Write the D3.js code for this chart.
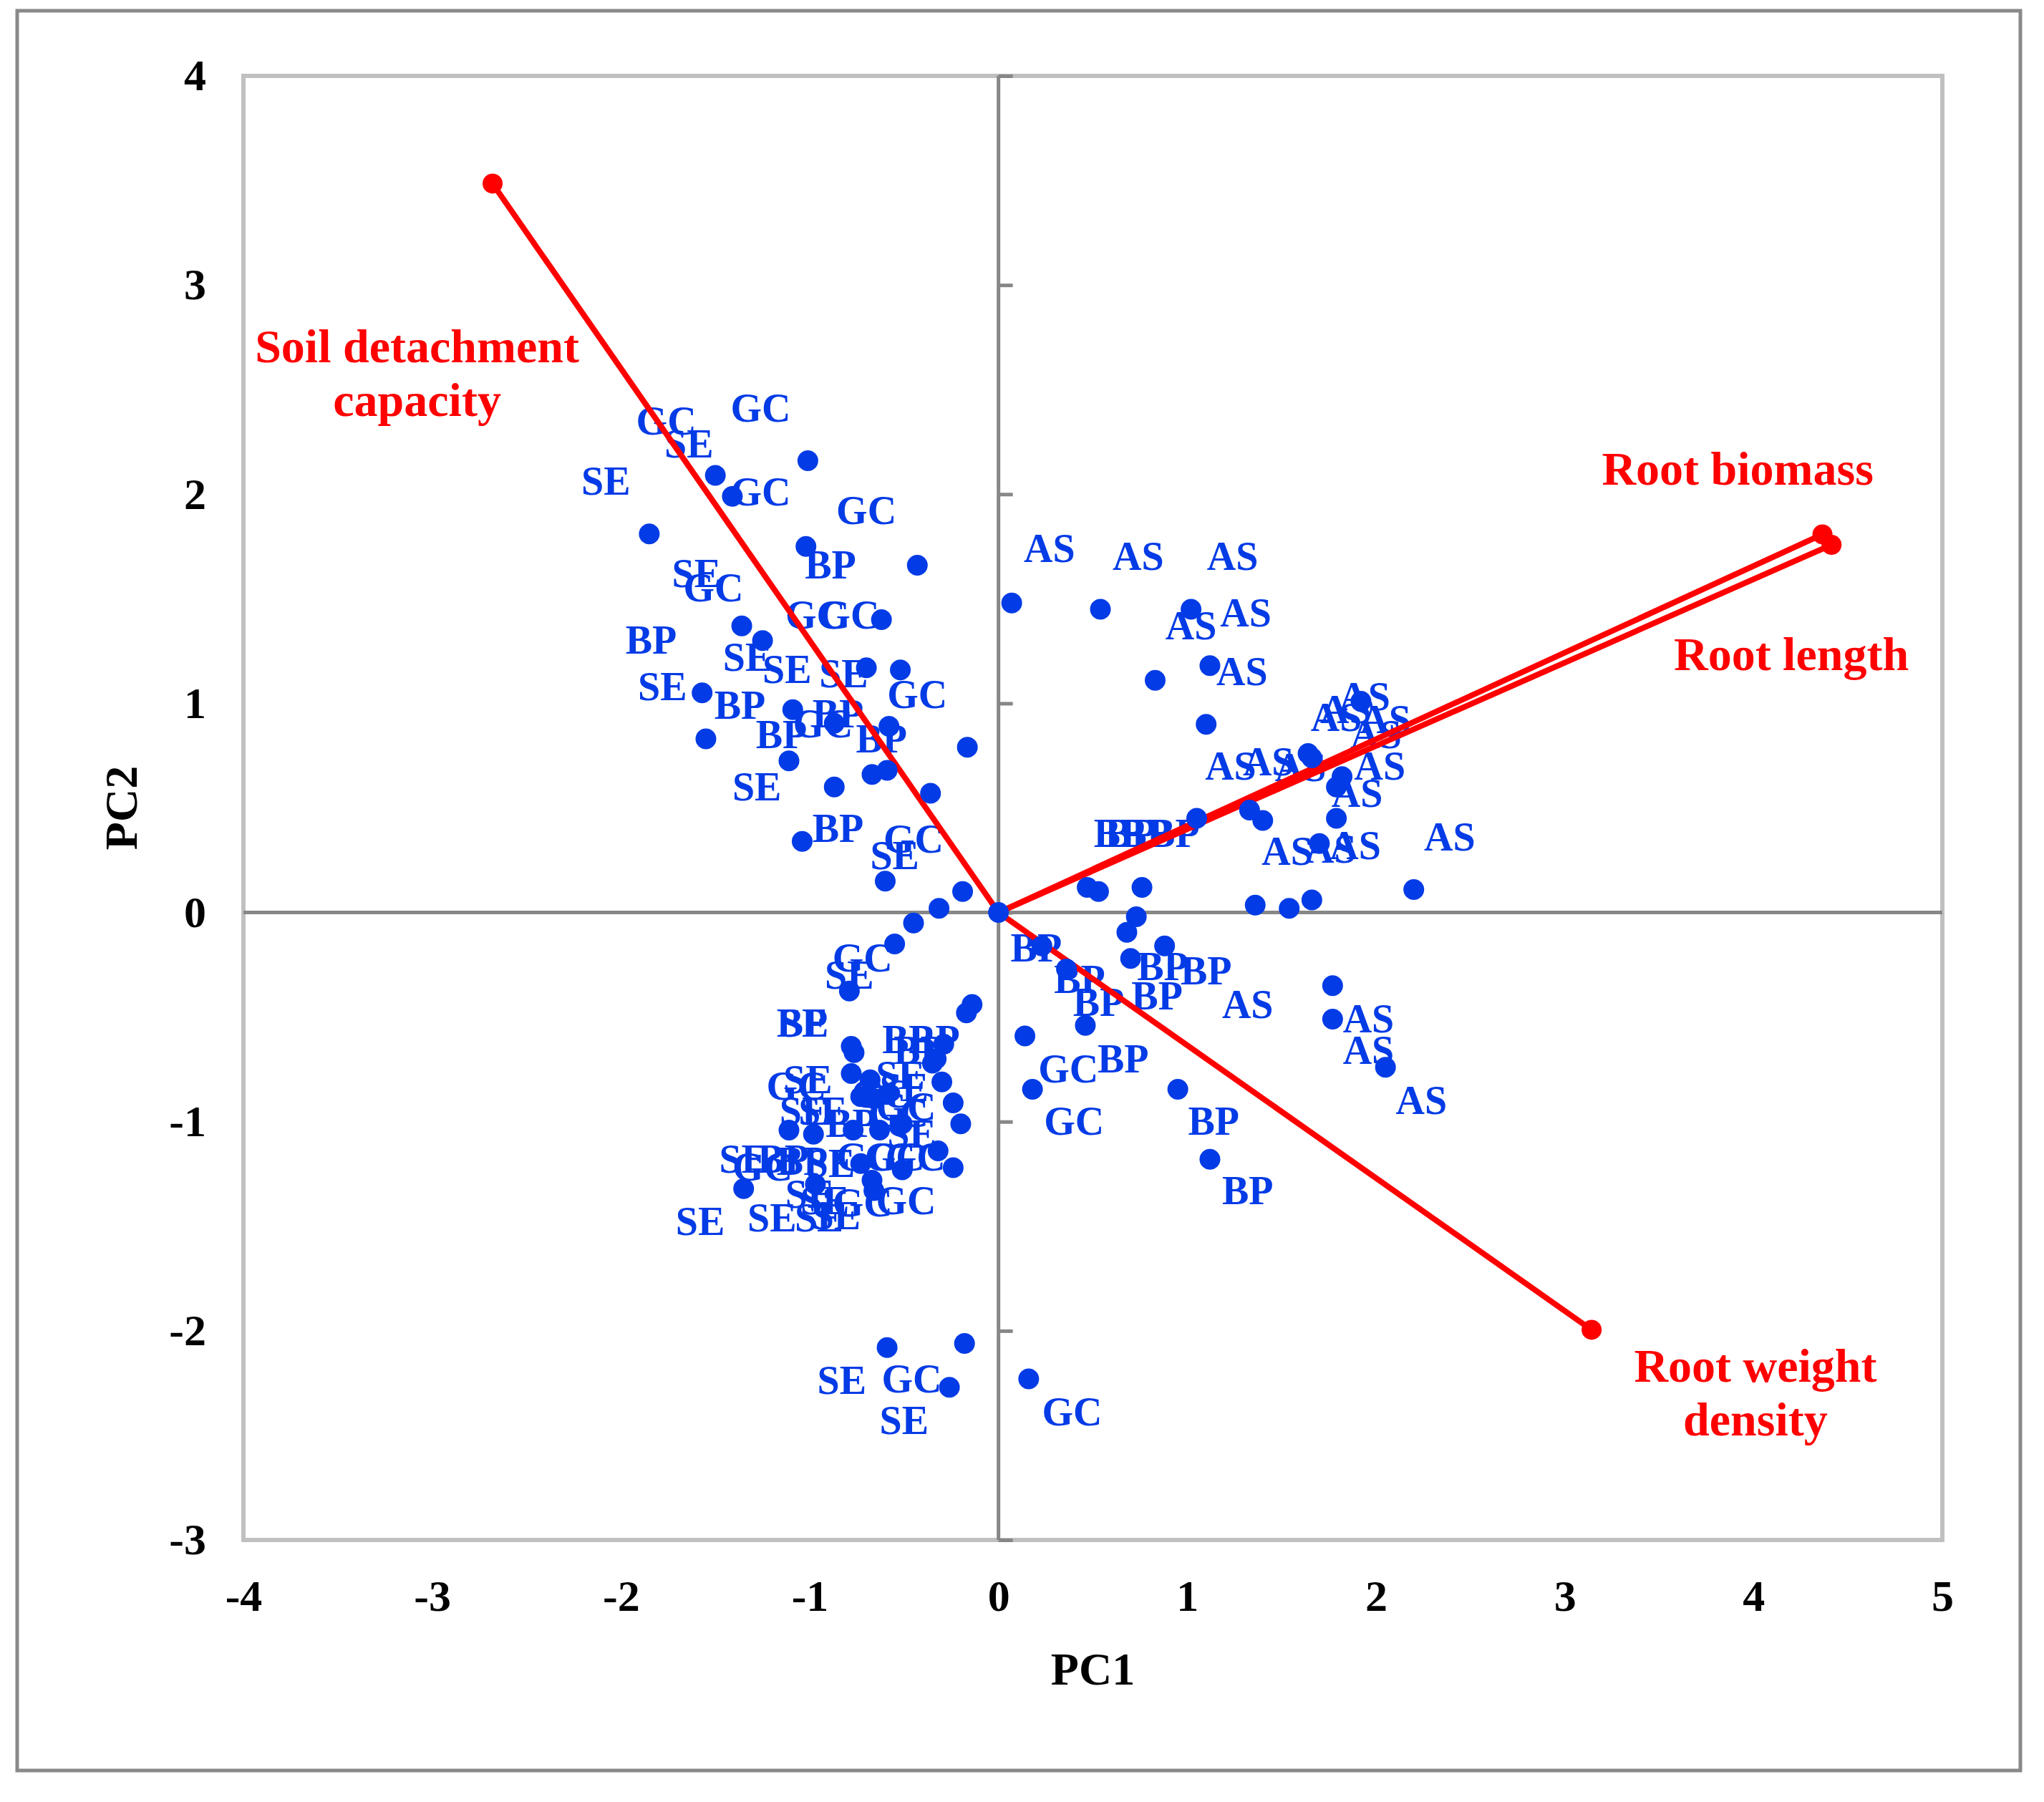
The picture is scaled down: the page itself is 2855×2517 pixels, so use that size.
<!doctype html>
<html>
  <head>
    <meta charset="utf-8">
    <title>PCA biplot</title>
    <script src="https://cdnjs.cloudflare.com/ajax/libs/d3/7.8.5/d3.min.js"></script>
    <style>
      body { margin: 0; background: #fff; }
      text { font-family: "Liberation Serif", "Times New Roman", serif; font-weight: bold; }
    </style>
  </head>
  <body>
    <div id="chart"></div>
    <script>

      // --- data ---
      const xTicks = [-4, -3, -2, -1, 0, 1, 2, 3, 4, 5];
      const yTicks = [-3, -2, -1, 0, 1, 2, 3, 4];

      // sample scores (PC1, PC2) - the blue dots
      const scores = [
        [-1.01, 2.16], [-1.50, 2.09], [-1.41, 1.99], [-1.85, 1.81], [-1.02, 1.75],
        [-0.43, 1.66], [-0.62, 1.40], [-1.36, 1.37], [-1.25, 1.30], [-0.70, 1.17],
        [-0.52, 1.16], [-1.57, 1.05], [-1.09, 0.97], [-0.87, 0.905], [-0.58, 0.89],
        [-0.165, 0.79], [-1.11, 0.725], [-0.67, 0.66], [-0.59, 0.68], [-0.87, 0.60],
        [-0.36, 0.57], [-1.04, 0.34], [-0.60, 0.15], [-0.19, 0.10], [-0.315, 0.02],
        [-0.45, -0.05], [0, 0], [-1.55, 0.83],
        [-0.55, -0.15], [-0.79, -0.375], [-0.14, -0.44], [-0.17, -0.48], [-0.78, -0.64],
        [-0.765, -0.67], [-0.29, -0.63], [-0.35, -0.72], [-0.33, -0.70], [-0.30, -0.81],
        [-0.24, -0.91], [-0.20, -1.01], [-0.32, -1.14], [-0.24, -1.22], [-0.78, -0.77],
        [-0.68, -0.80], [-0.73, -0.88], [-0.66, -0.89], [-0.59, -0.87], [-1.11, -1.04],
        [-0.98, -1.06], [-0.63, -1.04], [-0.51, -1.01], [-0.73, -1.20], [-0.67, -1.28],
        [-0.51, -1.23], [-1.35, -1.32], [-0.97, -1.30], [-0.66, -1.33], [-0.77, -1.04],
        [-0.59, -2.08], [-0.18, -2.06], [-0.26, -2.27], [0.16, -2.23],
        [0.07, 1.48], [0.54, 1.45], [1.02, 1.45], [1.12, 1.18], [0.83, 1.11],
        [1.10, 0.90], [1.64, 0.76], [1.66, 0.74], [1.82, 0.65], [1.79, 0.60],
        [1.92, 1.01], [1.33, 0.49], [1.40, 0.44], [1.05, 0.45], [1.79, 0.45],
        [1.70, 0.33], [0.47, 0.12], [0.53, 0.10], [0.76, 0.12], [1.36, 0.035],
        [1.54, 0.02], [1.66, 0.06], [2.20, 0.11], [0.73, -0.02], [0.68, -0.095],
        [0.88, -0.16], [0.70, -0.22], [0.23, -0.16], [0.36, -0.27], [0.46, -0.54],
        [0.14, -0.59], [0.18, -0.845], [0.95, -0.845], [1.12, -1.18], [1.77, -0.35],
        [1.77, -0.51], [2.05, -0.74]
      ];

      // data labels (treatment codes) and where they sit
      const labelText = [
        "GC", "GC", "SE", "SE", "GC", "GC", "BP", "SE", "GC", "BP",
        "GC", "GC", "SE", "SE", "SE", "GC", "SE", "BP", "BP", "GC",
        "BP", "BP", "SE", "BP", "GC", "SE",
        "GC", "SE", "BP", "SE", "BP", "BP", "BP", "SE", "GC", "SE",
        "SE", "GC", "SE", "SE", "BP", "GC", "SE", "SE", "GC", "BP",
        "BP", "SE", "GC", "GC", "GC", "SE", "SE", "GC", "GC", "SE",
        "SE", "SE", "SE", "GC",
        "SE", "GC", "SE", "GC",
        "AS", "AS", "AS", "AS", "AS", "AS", "AS", "AS", "AS", "AS",
        "AS", "AS", "AS", "AS", "AS", "AS", "AS", "AS", "AS", "AS",
        "BP", "BP", "BP", "BP",
        "BP", "BP", "BP", "BP", "BP", "BP", "AS", "AS", "AS", "AS",
        "GC", "BP", "GC", "BP", "BP"
      ];
      const labelPC1 = [
        -1.76, -1.26, -1.64, -2.08, -1.26, -0.70, -0.89, -1.60, -1.51, -1.84,
        -0.97, -0.79, -1.33, -1.12, -0.82, -0.43, -1.78, -1.37, -1.15, -0.93,
        -0.85, -0.62, -1.28, -0.85, -0.45, -0.55,
        -0.72, -0.79, -1.04, -1.03, -0.48, -0.34, -0.42, -0.52, -1.07, -1.01,
        -0.50, -0.49, -1.03, -0.93, -0.78, -0.53, -0.46, -1.35, -1.25, -1.14,
        -1.04, -0.89, -0.70, -0.55, -0.44, -1.00, -0.92, -0.72, -0.49, -1.58,
        -1.20, -0.95, -0.86, -0.62,
        -0.83, -0.46, -0.50, 0.39,
        0.27, 0.74, 1.24, 1.31, 1.02, 1.29, 1.23, 1.43, 1.60, 1.84,
        1.79, 1.94, 2.05, 2.00, 2.02, 1.90, 1.53, 1.76, 1.89, 2.39,
        0.64, 0.70, 0.78, 0.93,
        0.20, 0.43, 0.53, 0.87, 1.10, 0.84, 1.32, 1.96, 1.96, 2.24,
        0.37, 0.66, 0.40, 1.14, 1.32
      ];
      const labelPC2 = [
        2.35, 2.41, 2.24, 2.06, 2.01, 1.92, 1.66, 1.62, 1.55, 1.30,
        1.42, 1.42, 1.22, 1.16, 1.14, 1.04, 1.08, 0.99, 0.85, 0.90,
        0.95, 0.83, 0.60, 0.40, 0.35, 0.27,
        -0.22, -0.30, -0.53, -0.53, -0.61, -0.61, -0.66, -0.78, -0.83, -0.80,
        -0.84, -0.93, -0.95, -0.95, -1.01, -0.96, -1.06, -1.18, -1.22, -1.18,
        -1.19, -1.20, -1.17, -1.17, -1.17, -1.35, -1.38, -1.39, -1.38, -1.48,
        -1.46, -1.46, -1.45, -0.87,
        -2.24, -2.23, -2.43, -2.39,
        1.74, 1.70, 1.70, 1.43, 1.37, 1.15, 0.70, 0.72, 0.69, 0.97,
        0.93, 1.03, 0.92, 0.85, 0.70, 0.57, 0.29, 0.30, 0.32, 0.36,
        0.375, 0.375, 0.375, 0.375,
        -0.17, -0.32, -0.43, -0.26, -0.28, -0.40, -0.44, -0.51, -0.66, -0.90,
        -0.75, -0.70, -1.00, -1.00, -1.33
      ];

      // variable loadings - the red vectors
      const loadingNames = ["Soil detachment capacity", "Root biomass", "Root length", "Root weight density"];
      const loadingPC1 = [-2.68, 4.365, 4.413, 3.142];
      const loadingPC2 = [3.485, 1.808, 1.758, -1.995];

      // --- layout ---
      const W = 2855, H = 2517;
      const plot = { left: 340, right: 2713, top: 106, bottom: 2151 };

      const svg = d3.select('#chart')
        .append('svg')
        .attr('width', W)
        .attr('height', H)
        .style('display', 'block');

      // outer chart border
      svg.append('rect')
        .attr('x', 24).attr('y', 15)
        .attr('width', 2798).attr('height', 2458)
        .attr('fill', 'white')
        .attr('stroke', '#898989')
        .attr('stroke-width', 5);

      const x = d3.scaleLinear().domain([-4, 5]).range([plot.left, plot.right]);
      const y = d3.scaleLinear().domain([-3, 4]).range([plot.bottom, plot.top]);

      // plot area frame
      svg.append('rect')
        .attr('x', plot.left).attr('y', plot.top)
        .attr('width', plot.right - plot.left)
        .attr('height', plot.bottom - plot.top)
        .attr('fill', 'none')
        .attr('stroke', '#c0c0c0')
        .attr('stroke-width', 6);

      // tick labels at the frame edges
      const tickFmt = d => String(d);

      svg.append('g')
        .attr('transform', `translate(${plot.left},0)`)
        .call(d3.axisLeft(y).tickValues(yTicks).tickSize(0).tickPadding(52).tickFormat(tickFmt))
        .call(g => g.select('.domain').remove())
        .call(g => g.selectAll('text')
          .attr('font-size', 62).attr('fill', '#000')
          .attr('font-family', '"Liberation Serif", "Times New Roman", serif')
          .attr('font-weight', 'bold'));

      svg.append('g')
        .attr('transform', `translate(0,${plot.bottom})`)
        .call(d3.axisBottom(x).tickValues(xTicks).tickSize(0).tickPadding(55).tickFormat(tickFmt))
        .call(g => g.select('.domain').remove())
        .call(g => g.selectAll('text')
          .attr('font-size', 62).attr('fill', '#000')
          .attr('font-family', '"Liberation Serif", "Times New Roman", serif')
          .attr('font-weight', 'bold'));

      // axes through the origin
      svg.append('line')
        .attr('x1', x(-4)).attr('x2', x(5))
        .attr('y1', y(0)).attr('y2', y(0))
        .attr('stroke', '#878787').attr('stroke-width', 5);

      const vAxis = svg.append('g').attr('transform', `translate(${x(0)},0)`);
      vAxis.call(d3.axisLeft(y).tickValues(yTicks).tickSize(20).tickFormat(''));
      vAxis.call(d3.axisRight(y).tickValues(yTicks).tickSize(20).tickFormat(''));
      vAxis.selectAll('path, line')
        .attr('stroke', '#878787')
        .attr('stroke-width', 5);
      vAxis.selectAll('.domain').attr('d', `M0,${y(-3)}V${y(4)}`);

      // axis titles
      svg.append('text')
        .attr('x', x(0.5)).attr('y', 2331)
        .attr('dy', '0.35em')
        .attr('text-anchor', 'middle')
        .attr('font-size', 64)
        .text('PC1');

      svg.append('text')
        .attr('transform', `translate(169,${(plot.top + plot.bottom) / 2}) rotate(-90)`)
        .attr('dy', '0.35em')
        .attr('text-anchor', 'middle')
        .attr('font-size', 64)
        .text('PC2');

      // sample labels
      const blue = '#033be6';
      svg.append('g')
        .selectAll('text')
        .data(labelText)
        .join('text')
        .attr('x', (d, i) => x(labelPC1[i]))
        .attr('y', (d, i) => y(labelPC2[i]))
        .attr('dy', '0.33em')
        .attr('text-anchor', 'middle')
        .attr('font-size', 56)
        .attr('fill', blue)
        .text(d => d);

      // loading vectors
      const red = '#ff0000';
      const vectors = svg.append('g');
      vectors.selectAll('line')
        .data(loadingNames)
        .join('line')
        .attr('x1', x(0)).attr('y1', y(0))
        .attr('x2', (d, i) => x(loadingPC1[i]))
        .attr('y2', (d, i) => y(loadingPC2[i]))
        .attr('stroke', red)
        .attr('stroke-width', 8);
      vectors.selectAll('circle')
        .data(loadingNames)
        .join('circle')
        .attr('cx', (d, i) => x(loadingPC1[i]))
        .attr('cy', (d, i) => y(loadingPC2[i]))
        .attr('r', 14)
        .attr('fill', red);

      // sample dots
      svg.append('g')
        .selectAll('circle')
        .data(scores)
        .join('circle')
        .attr('cx', d => x(d[0]))
        .attr('cy', d => y(d[1]))
        .attr('r', 14.5)
        .attr('fill', blue);

      // vector names, placed beside each arrow tip
      const namePlace = [
        { lines: ['Soil detachment', 'capacity'], px: -3.08, py: 2.706 },
        { lines: ['Root biomass'], px: 3.916, py: 2.12 },
        { lines: ['Root length'], px: 4.20, py: 1.234 },
        { lines: ['Root weight', 'density'], px: 4.01, py: -2.17 }
      ];
      namePlace.forEach(p => {
        const t = svg.append('text')
          .attr('text-anchor', 'middle')
          .attr('font-size', 66)
          .attr('fill', red);
        p.lines.forEach((line, k) => {
          t.append('tspan')
            .attr('x', x(p.px))
            .attr('y', y(p.py) + k * 75)
            .attr('dy', '0.33em')
            .text(line);
        });
      });

    </script>
  </body>
</html>
